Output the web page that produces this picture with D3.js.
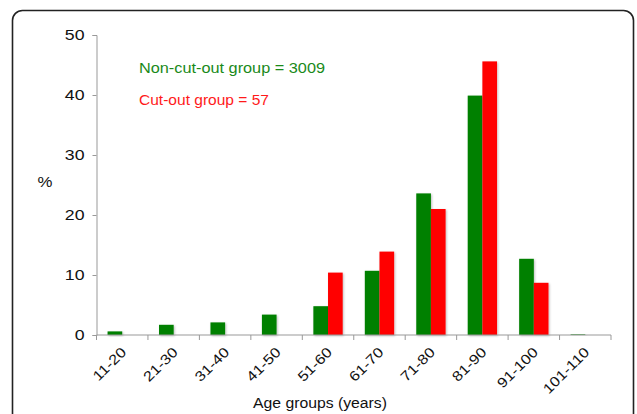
<!DOCTYPE html>
<html><head><meta charset="utf-8">
<script src="https://cdn.jsdelivr.net/npm/d3@7"></script>
<style>body{margin:0;background:#fff}svg{display:block;font-family:"Liberation Sans",Arial,Helvetica,sans-serif}</style>
</head><body>
<svg id="c" width="637" height="414"></svg>
<script>
const categories = ["11-20","21-30","31-40","41-50","51-60","61-70","71-80","81-90","91-100","101-110"];
const nonCutOut = [0.6, 1.7, 2.1, 3.4, 4.8, 10.7, 23.6, 39.9, 12.7, 0.1];
const cutOut    = [0, 0, 0, 0, 10.4, 13.9, 21.0, 45.6, 8.7, 0];
const seriesNames = ["Non-cut-out group = 3009", "Cut-out group = 57"];
const seriesColors = ["#008000", "#ff0000"];
const yTicks = [0, 10, 20, 30, 40, 50];

const svg = d3.select("#c");
const defs = svg.append("defs");
const f = defs.append("filter").attr("id","sh").attr("x","-20%").attr("y","-20%").attr("width","150%").attr("height","150%");
f.append("feDropShadow").attr("dx",1).attr("dy",1).attr("stdDeviation",1).attr("flood-color","#000").attr("flood-opacity",0.25);

function stretch(sel, k){
  sel.each(function(){
    const w = this.getComputedTextLength();
    d3.select(this).attr("textLength", w*k).attr("lengthAdjust","spacingAndGlyphs");
  });
}

// frame
svg.append("rect").attr("x",12.5).attr("y",10.5).attr("width",621).attr("height",430)
  .attr("rx",10).attr("fill","none").attr("stroke","#222").attr("stroke-width",1.6);

const x0 = 96.5, x1 = 611, yTop = 35, yBot = 335;
const x = d3.scaleBand().domain(categories).range([x0, x1]).paddingInner(0).paddingOuter(0);
const y = d3.scaleLinear().domain([0,50]).range([yBot, yTop]);
const groupW = x.bandwidth()*0.57;
const xs = d3.scaleBand().domain([0,1]).range([0, groupW]);

const data = categories.map((c,i)=>({c, v:[nonCutOut[i], cutOut[i]]}));
const g = svg.append("g");
data.forEach(d=>{
  d.v.forEach((v,k)=>{
    if (v<=0) return;
    g.append("rect")
      .attr("x", x(d.c) + (x.bandwidth()-groupW)/2 + xs(k))
      .attr("y", y(v)).attr("width", xs.bandwidth()).attr("height", yBot - y(v))
      .attr("fill", seriesColors[k]).attr("filter","url(#sh)");
  });
});

// y axis
const ya = svg.append("g").attr("transform",`translate(${x0},0)`)
  .call(d3.axisLeft(y).tickValues(yTicks).tickSize(4).tickPadding(8));
ya.select(".domain").attr("stroke","#999");
ya.selectAll(".tick line").attr("stroke","#999");
ya.selectAll("text").attr("font-size",15).attr("fill","#111").attr("font-family","Liberation Sans, Arial, sans-serif");
stretch(ya.selectAll("text"), 1.18);

// x axis
const xa = svg.append("g").attr("transform",`translate(0,${yBot})`)
  .call(d3.axisBottom(x).tickSize(0).tickPadding(0));
xa.select(".domain").attr("stroke","#999").attr("d",`M${x0},0H${x1}`);
xa.selectAll(".tick line").remove();
const bounds = d3.range(categories.length+1).map(i=>x0 + i*x.step());
xa.selectAll(".bt").data(bounds).join("line").attr("class","bt")
  .attr("x1",d=>d).attr("x2",d=>d).attr("y1",0).attr("y2",5).attr("stroke","#999");
xa.selectAll(".tick text")
  .attr("font-size",14).attr("fill","#111").attr("font-family","Liberation Sans, Arial, sans-serif")
  .attr("text-anchor","end").attr("dy",0)
  .attr("transform","translate(5,18) rotate(-45)");
stretch(xa.selectAll(".tick text"), 1.17);

// labels
const pct = svg.append("text").attr("x",45).attr("y",187).attr("text-anchor","middle").attr("font-size",15).attr("fill","#111").text("%");
stretch(pct, 1.12);
svg.append("text").attr("x",320).attr("y",408).attr("text-anchor","middle").attr("font-size",15.5).attr("fill","#111")
  .attr("textLength",134).attr("lengthAdjust","spacingAndGlyphs").text("Age groups (years)");

// legend text
const legW = [186, 130];
seriesNames.forEach((n,k)=>{
  svg.append("text").attr("x",139).attr("y",73 + k*32).attr("font-size",15)
    .attr("fill", k===0 ? "#1a8a1a" : "#ff1a1a")
    .attr("textLength",legW[k]).attr("lengthAdjust","spacingAndGlyphs").text(n);
});
</script>
</body></html>
